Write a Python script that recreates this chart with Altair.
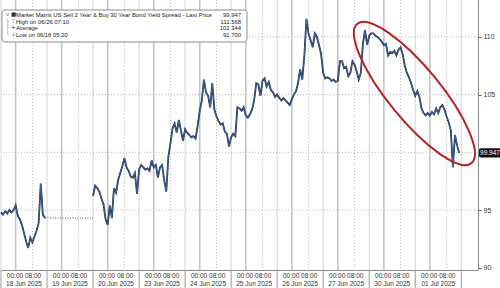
import altair as alt
import pandas as pd

# ---------------- data ----------------
day_labels = ["18 Jun 2025", "19 Jun 2025", "20 Jun 2025", "23 Jun 2025", "24 Jun 2025",
              "25 Jun 2025", "26 Jun 2025", "27 Jun 2025", "30 Jun 2025", "01 Jul 2025"]
time_labels = "00:00 08:00"
session_hours = 22      # hours shown per trading session
hour_0000 = 7           # offset of 00:00 inside a session
hour_0800 = 15          # offset of 08:00 inside a session

jun18 = [94.8, 94.6, 94.9, 94.7, 95.0, 94.8, 95.0, 95.4, 94.5, 94.2, 93.7, 93.0, 92.3, 91.7,
         92.6, 92.2, 92.7, 93.2, 93.9, 97.3, 94.6, 94.3]
jun19 = []  # holiday, no trading
jun20 = [96.2, 97.1, 96.9, 96.6, 96.0, 95.5, 94.2, 93.7, 95.4, 94.3, 96.9, 96.5, 97.6, 98.2,
         98.8, 99.5, 98.7, 98.4, 97.9, 97.8, 98.2, 96.4]
jun23 = [98.5, 98.9, 98.7, 98.5, 98.6, 98.4, 99.3, 98.7, 98.9, 97.8, 98.7, 98.9, 97.6, 96.6,
         99.6, 100.8, 102.1, 102.5, 101.7, 102.8, 101.9, 101.0]
jun24 = [102.0, 101.7, 101.5, 101.3, 101.4, 101.2, 102.3, 103.6, 104.5, 106.3, 105.2, 104.9,
         103.9, 106.0, 103.7, 103.1, 102.7, 102.4, 102.5, 101.8, 101.6, 100.5]
jun25 = [101.3, 101.6, 101.4, 103.9, 103.8, 103.6, 103.9, 103.2, 103.0, 103.3, 103.7, 104.5,
         106.0, 105.9, 104.9, 106.2, 106.4, 105.7, 106.1, 105.4, 105.2, 104.8]
jun26 = [105.0, 104.7, 104.5, 104.7, 104.5, 104.3, 104.1, 104.6, 105.0, 105.3, 106.0, 107.2,
         106.3, 108.4, 111.568, 110.3, 109.7, 109.1, 110.3, 110.0, 109.3, 108.5]
jun27 = [106.9, 106.4, 106.5, 106.4, 106.2, 106.3, 106.1, 106.2, 107.9, 107.9, 107.3, 107.4,
         106.6, 106.9, 107.9, 107.6, 107.0, 106.3, 106.9, 109.4, 110.6, 109.3]
jun30 = [110.1, 110.3, 110.3, 110.1, 110.0, 109.8, 109.6, 109.3, 109.4, 108.4, 108.7, 108.6,
         108.8, 108.4, 108.9, 109.1, 108.5, 107.5, 106.9, 106.5, 106.0, 105.4]
jul01 = [104.9, 105.3, 104.8, 103.8, 103.4, 103.2, 103.4, 103.2, 103.5, 103.3, 103.8, 103.4,
         103.9, 104.1, 103.7, 103.1, 102.6, 101.9, 98.7, 101.5, 100.6, 99.947]

sessions = [jun18, jun19, jun20, jun23, jun24, jun25, jun26, jun27, jun30, jul01]

legend_names = ["Market Matrix US Sell 2 Year & Buy 30 Year Bond Yield Spread - Last Price",
                "High on 06/26 07:10", "Average", "Low on 06/18 05:20"]
legend_values = ["99.947", "111.568", "102.344", "91.700"]
legend_marks = ["\u25A0", "\u22A4", "+", "\u22A5"]

y_ticks = [90, 92.5, 95, 97.5, 100, 102.5, 105, 107.5, 110, 112.5]
y_grid = [95, 100, 105, 110]

# ellipse annotation (centre in data units)
ell_t, ell_v = 197.6, 105.1

# ---------------- tables ----------------
rows = []
for i, vals in enumerate(sessions):
    for k, v in enumerate(vals):
        rows.append({"t": i * session_hours + k, "v": v, "seg": 0 if i == 0 else 1})
series = pd.DataFrame(rows)

gap = pd.DataFrame({"t": [len(jun18) - 1, 2 * session_hours], "v": [jun18[-1], jun18[-1]]})

n = len(day_labels)
sep_df = pd.DataFrame({"t": [i * session_hours for i in range(n + 1)]})
mid_df = pd.DataFrame({"t": [i * session_hours + hour_0000 for i in range(n)]})
h8_df = pd.DataFrame({"t": [i * session_hours + hour_0800 for i in range(n)]})
lab_df = pd.DataFrame({"t": [i * session_hours + session_hours / 2 for i in range(n)],
                       "date": day_labels, "tm": [time_labels] * n})
grid_df = pd.DataFrame({"v": y_grid})
last_df = pd.DataFrame({"v": [jul01[-1]], "txt": [legend_values[0]]})
ell_df = pd.DataFrame({"t": [ell_t], "v": [ell_v]})
one = pd.DataFrame({"a": [0]})

W, H = 477, 270
FONT = "Liberation Sans"

xs = alt.Scale(domain=[0, 228], nice=False, zero=False)
ys = alt.Scale(domain=[89.8, 113.2], nice=False, zero=False)
X = alt.X("t:Q", scale=xs, axis=alt.Axis(labels=False, ticks=False, grid=False, title=None,
                                          domainColor="#8a8a8a", domainWidth=1))
# the 100 label is hidden behind the last-price box in the reference
Y = alt.Y("v:Q", scale=ys, axis=alt.Axis(orient="right", values=y_ticks, title=None, grid=False,
                                          labelExpr="(datum.value % 5 == 0 && datum.value != 100) ? datum.label : ''",
                                          tickSize=3, tickColor="#555", domainColor="#8a8a8a",
                                          labelFont=FONT, labelFontSize=7, labelColor="#333",
                                          labelPadding=2))

sep = alt.Chart(sep_df).mark_rule(color="#d4d4d4", strokeWidth=1).encode(x=X)
mid = alt.Chart(mid_df).mark_rule(color="#c4c4c4", strokeWidth=1.6).encode(x=X)
h8 = alt.Chart(h8_df).mark_rule(color="#b8b8b8", strokeWidth=1, strokeDash=[1, 2]).encode(x=X)
hgrid = alt.Chart(grid_df).mark_rule(color="#b8b8b8", strokeWidth=1, strokeDash=[1, 2]).encode(y=Y)

sep_ticks = alt.Chart(sep_df).mark_rule(color="#9a9a9a", strokeWidth=1).encode(
    x=X, y=alt.value(H), y2=alt.value(H + 18))
tm_text = alt.Chart(lab_df).mark_text(font=FONT, fontSize=6.5, color="#333", baseline="middle").encode(
    x=X, y=alt.value(H + 6), text="tm:N")
date_text = alt.Chart(lab_df).mark_text(font=FONT, fontSize=6.5, color="#333", baseline="middle").encode(
    x=X, y=alt.value(H + 14), text="date:N")

gap_line = alt.Chart(gap).mark_line(color="#444", strokeWidth=0.9, strokeDash=[1, 1.5]).encode(x=X, y=Y)
line_dark = alt.Chart(series).mark_line(color="#1b2c48", strokeWidth=1.8, strokeJoin="miter").encode(
    x=X, y=Y, detail="seg:N")
line_blue = alt.Chart(series).mark_line(color="#5a8ccc", strokeWidth=0.6, opacity=0.9).encode(
    x=X, y=Y, detail="seg:N")

# ellipse drawn as a custom symbol (cubic bezier ellipse, semi-axes 1 x 0.289)
ell_path = ("M 1 0 C 1 0.1596 0.5523 0.289 0 0.289 C -0.5523 0.289 -1 0.1596 -1 0 "
            "C -1 -0.1596 -0.5523 -0.289 0 -0.289 C 0.5523 -0.289 1 -0.1596 1 0 Z")
ellipse = alt.Chart(ell_df).mark_point(shape=ell_path, size=180 ** 2, angle=50.7, filled=False,
                                       stroke="#b5202a", strokeWidth=2, opacity=1).encode(x=X, y=Y)

last_box = alt.Chart(last_df).transform_calculate(lo="datum.v - 0.4", hi="datum.v + 0.4").mark_rect(
    color="#111", cornerRadius=2).encode(x=alt.value(W + 1), x2=alt.value(W + 23),
                                         y=alt.Y("lo:Q", scale=ys), y2="hi:Q")
last_txt = alt.Chart(last_df).mark_text(font=FONT, fontSize=6.5, color="white", baseline="middle").encode(
    x=alt.value(W + 12), y=Y, text="txt:N")

leg_box = alt.Chart(one).mark_rect(fill="white", stroke="#8c8c8c", strokeWidth=1, cornerRadius=3).encode(
    x=alt.value(1), x2=alt.value(246), y=alt.value(10), y2=alt.value(42))
leg_tree = alt.Chart(one).mark_text(text=["v", "\u251C", "\u251C", "\u2514"], lineHeight=6.7, font="DejaVu Sans",
                                    fontSize=5.5, color="#777", align="left", baseline="top").encode(
    x=alt.value(5), y=alt.value(12))
leg_marks = alt.Chart(one).mark_text(text=legend_marks, lineHeight=6.7, font="DejaVu Sans", fontSize=5.5,
                                     color="#333", align="left", baseline="top").encode(
    x=alt.value(10), y=alt.value(12))
leg_names = alt.Chart(one).mark_text(text=legend_names, lineHeight=6.7, font=FONT, fontSize=5.9,
                                     color="#222", align="left", baseline="top").encode(
    x=alt.value(15), y=alt.value(12))
leg_vals = alt.Chart(one).mark_text(text=legend_values, lineHeight=6.7, font=FONT, fontSize=5.9,
                                    color="#222", align="right", baseline="top").encode(
    x=alt.value(240), y=alt.value(12))

chart = alt.layer(
    sep, mid, h8, hgrid, sep_ticks, tm_text, date_text,
    gap_line, line_dark, line_blue, ellipse, last_box, last_txt,
    leg_box, leg_tree, leg_marks, leg_names, leg_vals
).properties(
    width=W, height=H,
    padding={"left": 1, "top": 0, "right": 22, "bottom": 18},
    autosize=alt.AutoSizeParams(type="none"),
    background="white"
).configure_view(stroke=None)

chart.save("out.html", embed_options={"renderer": "svg", "actions": False})
